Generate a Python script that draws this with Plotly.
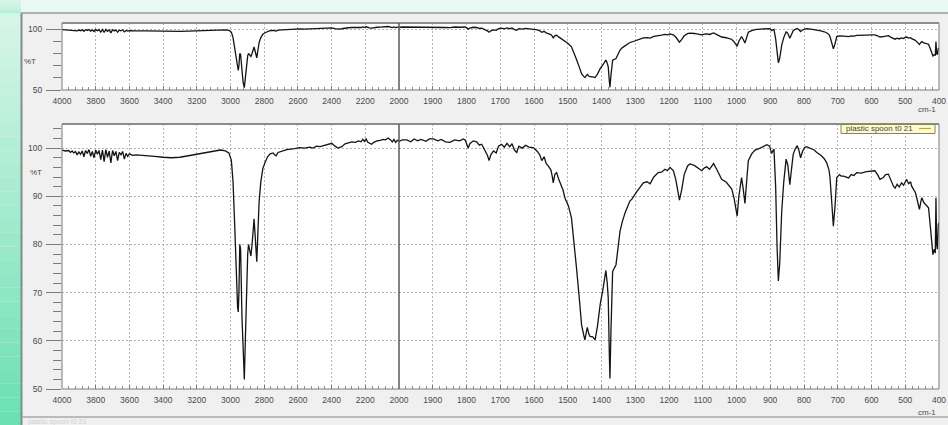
import plotly.graph_objects as go

# FT-IR spectrum: wavenumber (cm-1) vs transmittance (%T)
WAVENUMBER = [
    4000, 3980, 3960, 3950, 3940, 3930, 3920, 3910, 3900, 3890, 3880, 3870, 3860, 3850,
    3840, 3830, 3820, 3810, 3800, 3790, 3780, 3770, 3760, 3750, 3740, 3730, 3720, 3710,
    3700, 3690, 3680, 3670, 3660, 3650, 3640, 3630, 3620, 3610, 3600, 3580, 3560, 3500,
    3450, 3400, 3350, 3300, 3250, 3200, 3150, 3100, 3060, 3030, 3010, 2995, 2985, 2975,
    2965, 2958, 2954, 2950, 2945, 2940, 2932, 2925, 2918, 2912, 2905, 2898, 2893, 2886,
    2879, 2872, 2865, 2860, 2854, 2848, 2844, 2838, 2830, 2820, 2808, 2795, 2780, 2765,
    2747, 2738, 2729, 2718, 2700, 2666, 2620, 2590, 2560, 2530, 2510, 2490, 2468, 2440,
    2420, 2399, 2380, 2362, 2340, 2320, 2300, 2280, 2260, 2240, 2225, 2215, 2205, 2195,
    2185, 2175, 2162, 2150, 2130, 2110, 2095, 2080, 2064, 2050, 2040, 2030, 2020, 2010,
    2000, 1990, 1977, 1965, 1955, 1945, 1935, 1920, 1910, 1898, 1885, 1875, 1862, 1849,
    1835, 1820, 1810, 1804, 1798, 1795, 1790, 1780, 1770, 1762, 1755, 1745, 1738, 1733,
    1728, 1720, 1712, 1705, 1696, 1688, 1680, 1672, 1665, 1658, 1651, 1645, 1635, 1625,
    1615, 1602, 1590, 1583, 1577, 1570, 1564, 1558, 1550, 1546, 1543, 1538, 1533, 1527,
    1520, 1514, 1508, 1503, 1498, 1489, 1480, 1474, 1466, 1459, 1452, 1449, 1445, 1442,
    1438, 1434, 1426, 1419, 1412, 1404, 1395, 1387, 1383, 1380, 1377, 1375, 1372, 1367,
    1357, 1350, 1345, 1338, 1330, 1316, 1310, 1295, 1276, 1265, 1256, 1245, 1232, 1222,
    1212, 1205, 1197, 1190, 1187, 1180, 1174, 1169, 1162, 1155, 1145, 1138, 1125, 1113,
    1103, 1095, 1088, 1080, 1068, 1058, 1044, 1030, 1020, 1014, 1007, 1001, 998, 993,
    985, 980, 975, 970, 965, 955, 945, 930, 920, 910, 902, 896, 889, 884,
    880, 876, 872, 866, 860, 853, 848, 845, 842, 838, 832, 826, 820, 815,
    810, 804, 798, 792, 780, 770, 762, 750, 740, 733, 726, 723, 718, 713,
    708, 703, 695, 690, 683, 675, 668, 660, 652, 644, 630, 615, 600, 590,
    582, 575, 565, 558, 550, 542, 535, 530, 524, 518, 511, 505, 500, 496,
    490, 484, 481, 475, 470, 466, 462, 458, 454, 451, 445, 438, 431, 426,
    422, 418, 415, 413, 411, 409, 407, 405, 402, 400,
]

TRANSMITTANCE = [
    99.6, 99.4, 99.5, 99.1, 99.4, 99.0, 99.3, 98.6, 99.2, 98.7, 99.4, 98.2, 99.5, 98.9,
    99.7, 98.3, 99.3, 98.0, 99.6, 98.7, 99.5, 97.6, 99.6, 97.2, 99.7, 98.1, 99.4, 96.9,
    99.5, 98.4, 99.3, 97.4, 99.1, 98.6, 99.3, 97.7, 98.9, 98.3, 98.8, 98.5, 98.6, 98.5,
    98.3, 98.1, 98.0, 98.1, 98.4, 98.7, 99.0, 99.4, 99.6, 99.4, 99.0, 97.5, 93.0, 84.0,
    73.0, 67.0, 66.0, 70.0, 80.0, 79.0, 65.0, 56.0, 52.0, 60.0, 72.0, 78.0, 80.0, 79.0,
    77.6, 80.0, 84.0, 85.3, 82.0, 78.0, 76.4, 82.0, 89.0, 93.0, 95.8, 97.0, 98.2, 98.8,
    99.0, 98.6, 98.4, 99.1, 99.3, 99.7, 99.9, 100.1, 100.0, 100.2, 100.0, 100.4, 100.3, 100.6,
    100.8, 101.0, 100.4, 100.0, 100.3, 100.9, 101.1, 101.3, 101.2, 101.5, 101.3, 101.8, 101.4, 101.9,
    101.2, 101.0, 100.8, 101.2, 101.5, 101.6, 101.8, 101.7, 102.1, 101.7, 101.3, 101.8, 101.2, 101.6,
    101.4, 101.7, 101.7, 101.3, 101.9, 101.5, 101.8, 101.4, 101.9, 101.9, 101.5, 101.8, 101.3, 101.2,
    101.7, 101.5, 101.9, 101.7, 100.8, 100.0, 100.9, 101.5, 101.3, 100.6, 100.8, 99.6, 98.5, 97.4,
    98.6, 99.4, 99.0, 100.4, 100.8, 100.2, 101.0, 100.3, 100.9, 99.6, 99.1, 100.4, 100.0, 100.6,
    100.2, 100.1, 99.3, 98.6, 97.4, 98.2, 96.8, 96.3, 95.5, 94.2, 92.8, 94.6, 94.9, 93.6,
    92.2, 91.3, 89.6, 88.6, 88.0, 85.5, 80.0, 75.1, 69.0, 63.3, 61.0, 60.2, 61.8, 62.8,
    61.5, 60.9, 60.8, 60.2, 63.0, 67.5, 71.0, 74.6, 72.0, 68.9, 58.0, 52.2, 62.0, 74.4,
    75.8, 80.0, 82.8, 84.8, 86.6, 89.0, 89.4, 91.0, 92.8, 93.0, 92.6, 94.0, 94.9, 95.0,
    95.6, 95.3, 96.0, 95.5, 95.3, 93.5, 91.0, 89.2, 91.5, 94.5, 96.3, 96.7, 96.4, 95.7,
    95.3, 95.9, 96.1, 95.6, 96.8, 95.5, 93.5, 92.9, 92.0, 91.5, 89.5, 86.5, 85.9, 90.0,
    93.9, 91.5, 88.5, 93.0, 97.4, 98.8, 99.6, 100.0, 100.3, 100.7, 100.4, 98.9, 99.8, 92.0,
    80.0, 72.4, 76.0, 86.9, 93.0, 97.7, 96.5, 94.0, 92.4, 95.0, 98.7, 99.8, 100.5, 99.5,
    98.0, 99.4, 100.1, 100.3, 99.9, 99.6, 99.1, 98.5, 97.8, 97.0, 95.5, 93.9, 89.0, 83.8,
    88.0, 93.9, 94.5, 94.2, 94.2, 94.0, 93.8, 94.5, 94.3, 94.9, 94.8, 95.1, 95.2, 95.3,
    94.5, 93.5, 93.9, 94.5, 94.6, 93.2, 92.1, 91.7, 92.5, 91.9, 92.8, 92.3, 93.2, 93.5,
    92.6, 93.0, 92.1, 91.5, 90.8, 89.7, 88.6, 87.3, 88.8, 89.7, 88.7, 88.2, 87.6, 84.0,
    80.5, 77.9, 78.8, 79.0, 78.2, 89.7, 80.0, 79.0, 84.2, 84.5,
]

SAMPLE_NAME = "plastic spoon t0 21"

# split wavenumber scale: 4000-2000 compressed, 2000-400 expanded 2x
HIGH_TICKS = [4000, 3800, 3600, 3400, 3200, 3000, 2800, 2600, 2400, 2200]
LOW_TICKS = [2000, 1900, 1800, 1700, 1600, 1500, 1400, 1300, 1200, 1100, 1000, 900, 800, 700, 600, 500, 400]
OVERVIEW_Y_TICKS = [50, 100]
OVERVIEW_Y_MINOR = [60, 70, 80, 90]
DETAIL_Y_TICKS = [50, 60, 70, 80, 90, 100]

W, H = 948, 425


def px(x):
    return x / W


def py(y):
    return 1 - y / H


X_LEFT, X_SPLIT, X_RIGHT = 62, 399, 939
TOP_T, TOP_B = 23, 90
BOT_T, BOT_B = 124, 389

GRID = "#b4b4b4"
FRAME = "#7a7a7a"
TXT = "#4a4a4a"
FONT = "Liberation Sans"

fig = go.Figure()

panels = [("x", "y"), ("x2", "y"), ("x3", "y2"), ("x4", "y2")]
for xa, ya in panels:
    fig.add_trace(go.Scatter(
        x=WAVENUMBER, y=TRANSMITTANCE, xaxis=xa, yaxis=ya, mode="lines",
        line=dict(color="#141414", width=1.3), hoverinfo="skip", showlegend=False,
    ))


def xaxis_cfg(domain, rng, ticks, anchor, minor_step):
    return dict(
        domain=domain, range=rng, anchor=anchor, automargin=False, tickmode="array",
        tickvals=ticks, ticktext=[str(t) for t in ticks],
        showgrid=True, gridcolor=GRID, griddash="2px,2px", gridwidth=1,
        ticks="inside", ticklen=4, tickcolor=FRAME, showline=False, zeroline=False,
        ticklabelstandoff=4,
        tickfont=dict(family=FONT, size=8.5, color=TXT),
        minor=dict(dtick=minor_step, tick0=400, ticks="inside", ticklen=3,
                   tickcolor="#909090", showgrid=False),
        fixedrange=True,
    )


def yaxis_cfg(domain, anchor, ticks, minor):
    return dict(
        domain=domain, range=[50, 105], anchor=anchor, automargin=False,
        tickmode="array", tickvals=ticks,
        showgrid=True, gridcolor=GRID, griddash="2px,2px", zeroline=False,
        ticks="outside", ticklen=15, tickcolor=FRAME, showline=False,
        ticklabelstandoff=2,
        tickfont=dict(family=FONT, size=8.5, color=TXT),
        minor=dict(ticks="outside", ticklen=8, tickcolor=FRAME, showgrid=False, **minor),
        fixedrange=True,
    )


dom_l = [px(X_LEFT), px(X_SPLIT)]
dom_r = [px(X_SPLIT), px(X_RIGHT)]

fig.update_layout(
    width=W, height=H, margin=dict(l=0, r=0, t=0, b=0, autoexpand=False),
    paper_bgcolor="#f0f0f0", plot_bgcolor="#ffffff",
    xaxis=xaxis_cfg(dom_l, [4000, 2000], HIGH_TICKS, "y", 40),
    xaxis2=xaxis_cfg(dom_r, [2000, 400], LOW_TICKS, "y", 20),
    xaxis3=xaxis_cfg(dom_l, [4000, 2000], HIGH_TICKS, "y2", 40),
    xaxis4=xaxis_cfg(dom_r, [2000, 400], LOW_TICKS, "y2", 20),
    yaxis=yaxis_cfg([py(TOP_B), py(TOP_T)], "x", OVERVIEW_Y_TICKS,
                    dict(tickmode="array", tickvals=OVERVIEW_Y_MINOR)),
    yaxis2=yaxis_cfg([py(BOT_B), py(BOT_T)], "x3", DETAIL_Y_TICKS,
                     dict(dtick=2, tick0=50)),
)

shapes = []

# mint backdrop behind the application window
shapes.append(dict(type="rect", xref="paper", yref="paper", x0=0, x1=1, y0=py(13), y1=1,
                   fillcolor="#e9f9f3", line=dict(width=0), layer="below"))
top_c = (214, 245, 232)
bot_c = (108, 224, 178)
n_bands = 30
for i in range(n_bands):
    f = i / (n_bands - 1)
    c = tuple(round(top_c[k] + (bot_c[k] - top_c[k]) * f) for k in range(3))
    y0 = 13 + (H - 13) * i / n_bands
    y1 = 13 + (H - 13) * (i + 1) / n_bands
    shapes.append(dict(type="rect", xref="paper", yref="paper", x0=0, x1=px(21),
                       y0=py(y1), y1=py(y0), fillcolor="rgb(%d,%d,%d)" % c,
                       line=dict(width=0), layer="below"))
for i in range(12):
    f = i / 11
    c = tuple(round(top_c[k] + (bot_c[k] - top_c[k]) * f * 0.35) for k in range(3))
    shapes.append(dict(type="rect", xref="paper", yref="paper", x0=0, x1=px(21),
                       y0=py(13 * (i + 1) / 12), y1=py(13 * i / 12),
                       fillcolor="rgb(%d,%d,%d)" % c, line=dict(width=0), layer="below"))

# window border
shapes.append(dict(type="line", xref="paper", yref="paper", x0=px(21.5), x1=px(21.5),
                   y0=0, y1=py(13), line=dict(color="#8a8a8a", width=2)))
shapes.append(dict(type="line", xref="paper", yref="paper", x0=px(21), x1=1,
                   y0=py(13), y1=py(13), line=dict(color="#9a9a9a", width=1.5)))
# status bar separator
shapes.append(dict(type="line", xref="paper", yref="paper", x0=px(22), x1=1,
                   y0=py(417), y1=py(417), line=dict(color="#a8a8a8", width=1.5)))

# plot frames and split marker at 2000 cm-1
for t, b in [(TOP_T, TOP_B), (BOT_T, BOT_B)]:
    shapes.append(dict(type="rect", xref="paper", yref="paper",
                       x0=px(X_LEFT), x1=px(X_RIGHT), y0=py(b), y1=py(t),
                       line=dict(color=FRAME, width=1), fillcolor="rgba(0,0,0,0)"))
    shapes.append(dict(type="line", xref="paper", yref="paper",
                       x0=px(X_LEFT), x1=px(X_RIGHT), y0=py(t), y1=py(t),
                       line=dict(color="#8c8c8c", width=2)))
    shapes.append(dict(type="line", xref="paper", yref="paper",
                       x0=px(X_SPLIT), x1=px(X_SPLIT), y0=py(b), y1=py(t),
                       line=dict(color="#5a5a5a", width=1.5)))

# legend box with its sample line
shapes.append(dict(type="rect", xref="paper", yref="paper", x0=px(841), x1=px(935),
                   y0=py(133.5), y1=py(124.5), fillcolor="#fdfbd6",
                   line=dict(color="#8a8450", width=1)))
shapes.append(dict(type="line", xref="paper", yref="paper", x0=px(919), x1=px(931),
                   y0=py(128.5), y1=py(128.5), line=dict(color="#b8a848", width=1.2)))


def label(text, x, y, size=8, color=TXT, xanchor="center"):
    return dict(text=text, x=px(x), y=py(y), xref="paper", yref="paper",
                xanchor=xanchor, yanchor="middle", showarrow=False,
                font=dict(family=FONT, size=size, color=color))


annotations = [
    label("%T", 30, 61),
    label("%T", 36, 172),
    label("cm-1", 938, 110, xanchor="right"),
    label("cm-1", 938, 412, xanchor="right"),
    label(SAMPLE_NAME, 844, 129, color="#4a4630", xanchor="left"),
    label(SAMPLE_NAME, 26, 421.5, size=7, color="#d2d2d2", xanchor="left"),
]

fig.update_layout(shapes=shapes, annotations=annotations)

fig.write_html("out.html")
